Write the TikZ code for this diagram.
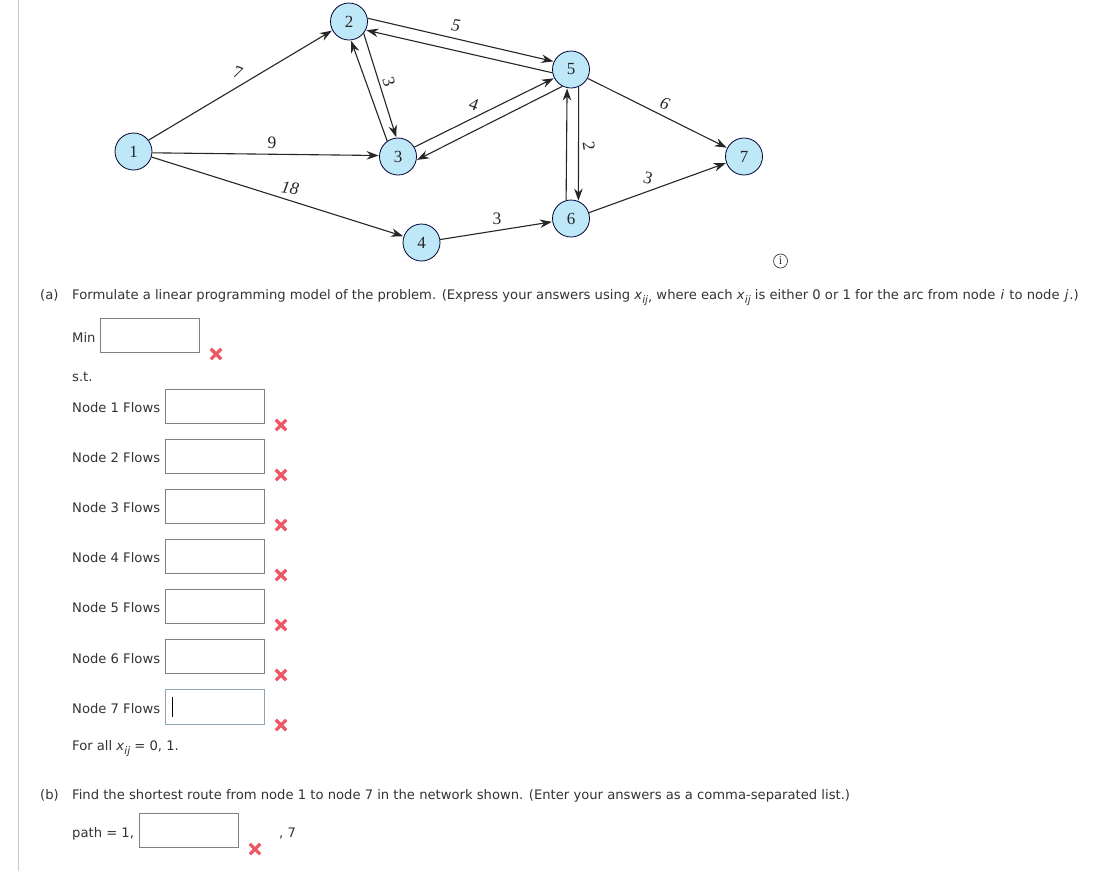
\documentclass[tikz,border=0pt]{standalone}
\usepackage{fontspec}
\setmainfont{DejaVu Sans}
\newfontfamily\serifnum{Liberation Serif}
\usetikzlibrary{arrows.meta}
\definecolor{nodefill}{RGB}{190,232,248}
\definecolor{xred}{RGB}{238,88,100}
\tikzset{
  every picture/.style={x=1pt,y=-1pt},
  net/.style={circle,draw=black!80!blue,line width=0.8pt,fill=nodefill,minimum size=37pt,inner sep=0pt,font=\serifnum\fontsize{17}{17}\selectfont,text=black!85},
  arc/.style={draw=black!85,line width=1.1pt,-{Stealth[length=12pt,width=8.5pt]},shorten >=0.5pt},
  wt/.style={font=\serifnum\itshape\fontsize{17.5}{18}\selectfont,text=black!85,inner sep=0pt},
  wtup/.style={font=\serifnum\fontsize{17.5}{18}\selectfont,text=black!85,inner sep=0pt},
  txt/.style={anchor=base west,inner sep=0pt,font=\fontsize{13.15}{15}\selectfont,text=black!80},
  ansbox/.style={draw=black!50,line width=1pt,minimum width=99pt,minimum height=34pt,inner sep=0pt,anchor=north west,fill=white},
  activebox/.style={draw=cyan!35!black!55,line width=1.2pt,minimum width=99pt,minimum height=35pt,inner sep=0pt,anchor=north west,fill=white},
  xmark/.style={draw=xred,line width=3.2pt},
}
\newcommand{\xij}{\textit{x}\raisebox{-4pt}{\fontsize{10.5}{10.5}\selectfont\textit{ij}}}
\newcommand{\crossat}[2]{\draw[xmark] (#1-5.2,#2-5.2) -- (#1+5.2,#2+5.2) (#1-5.2,#2+5.2) -- (#1+5.2,#2-5.2);}
\begin{document}
\begin{tikzpicture}
\useasboundingbox (0,0) rectangle (1110,871);
\fill[white] (0,0) rectangle (1110,871);
\draw[black!22,line width=1.2pt] (18.5,0) -- (18.5,871);
% network
\node[net] (n1) at (133.5,151.5) {1};
\node[net] (n2) at (349,21.5) {2};
\node[net] (n3) at (398,156.5) {3};
\node[net] (n4) at (421.5,242.5) {4};
\node[net] (n5) at (571,69.5) {5};
\node[net] (n6) at (571,218.5) {6};
\node[net] (n7) at (744,156.5) {7};
\draw[arc] (n1.37.7) -- (n2.208);
\draw[arc] (n1.-4) -- (n3.177);
\draw[arc] (n1.-17) -- (n4.161);
\draw[arc] (n2.10) -- (n5.155);
\draw[arc] (n5.190) -- (n2.-27.7);
\draw[arc] (n2.-39) -- (n3.95);
\draw[arc] (n3.125) -- (n2.-84);
\draw[arc] (n3.30) -- (n5.207);
\draw[arc] (n5.243) -- (n3.-11);
\draw[arc] (n6.105) -- (n5.258);
\draw[arc] (n5.-66) -- (n6.67);
\draw[arc] (n5.-28) -- (n7.153);
\draw[arc] (n6.18) -- (n7.200);
\draw[arc] (n4.9) -- (n6.190);
\node[wtup,rotate=-20] (w12) at (238,73) {7};
\node[wtup] (w13) at (272,143) {9};
\node[wt,rotate=-10] (w14) at (290,188) {18};
\node[wt,rotate=-8] (w25) at (456,26) {5};
\node[wtup,rotate=-72] (w23) at (389,82) {3};
\node[wtup,rotate=-20] (w35) at (474,105) {4};
\node[wtup,rotate=-82] (w56) at (589,146) {2};
\node[wt,rotate=-20] (w57) at (665,104) {6};
\node[wtup,rotate=-15] (w67) at (648,178) {3};
\node[wtup] (w46) at (497,219) {3};
% info icon
\node[circle,draw=black!75,line width=0.7pt,minimum size=14pt,inner sep=0pt,font=\serifnum\fontsize{12}{12}\selectfont,text=black!85] (info) at (780.5,261) {i};
% part a
\node[txt] (pa) at (40,299) {(a)};
\node[txt] (pat) at (72,299) {Formulate a linear programming model of the problem. (Express your answers using \xij\raisebox{-2pt}{,} where each \xij\ is either 0 or 1 for the arc from node \kern1pt\textit{i}\kern1pt\ to node \kern1pt\textit{j}\kern1pt.)};
\node[txt] (lmin) at (72,342) {Min};
\node[ansbox] (bmin) at (100,318) {};
\crossat{216}{354}
\node[txt] (st) at (72,381) {s.t.};
\foreach \k/\ty/\by/\cy in {1/412/389/425, 2/462/439/475, 3/512/489/525, 4/562/539/575, 5/612/589/625, 6/663/639/675}{
  \node[txt] (l\k) at (72,\ty) {Node \k\ Flows};
  \node[ansbox] (b\k) at (165,\by) {};
  \crossat{281}{\cy}
}
\node[txt] (l7) at (72,713) {Node 7 Flows};
\node[activebox] (b7) at (165,689) {};
\draw[black,line width=0.9pt] (172.5,697) -- (172.5,717);
\crossat{281}{725}
\node[txt] (forall) at (72,750) {For all \xij\ = 0, 1.};
% part b
\node[txt] (pb) at (40,799) {(b)};
\node[txt] (pbt) at (72,799) {Find the shortest route from node 1 to node 7 in the network shown. (Enter your answers as a comma-separated list.)};
\node[txt] (lpath) at (72,837) {path = 1,};
\node[ansbox] (bpath) at (139,813) {};
\crossat{255}{849}
\node[txt] (l7end) at (279,837) {, 7};
\end{tikzpicture}
\end{document}
